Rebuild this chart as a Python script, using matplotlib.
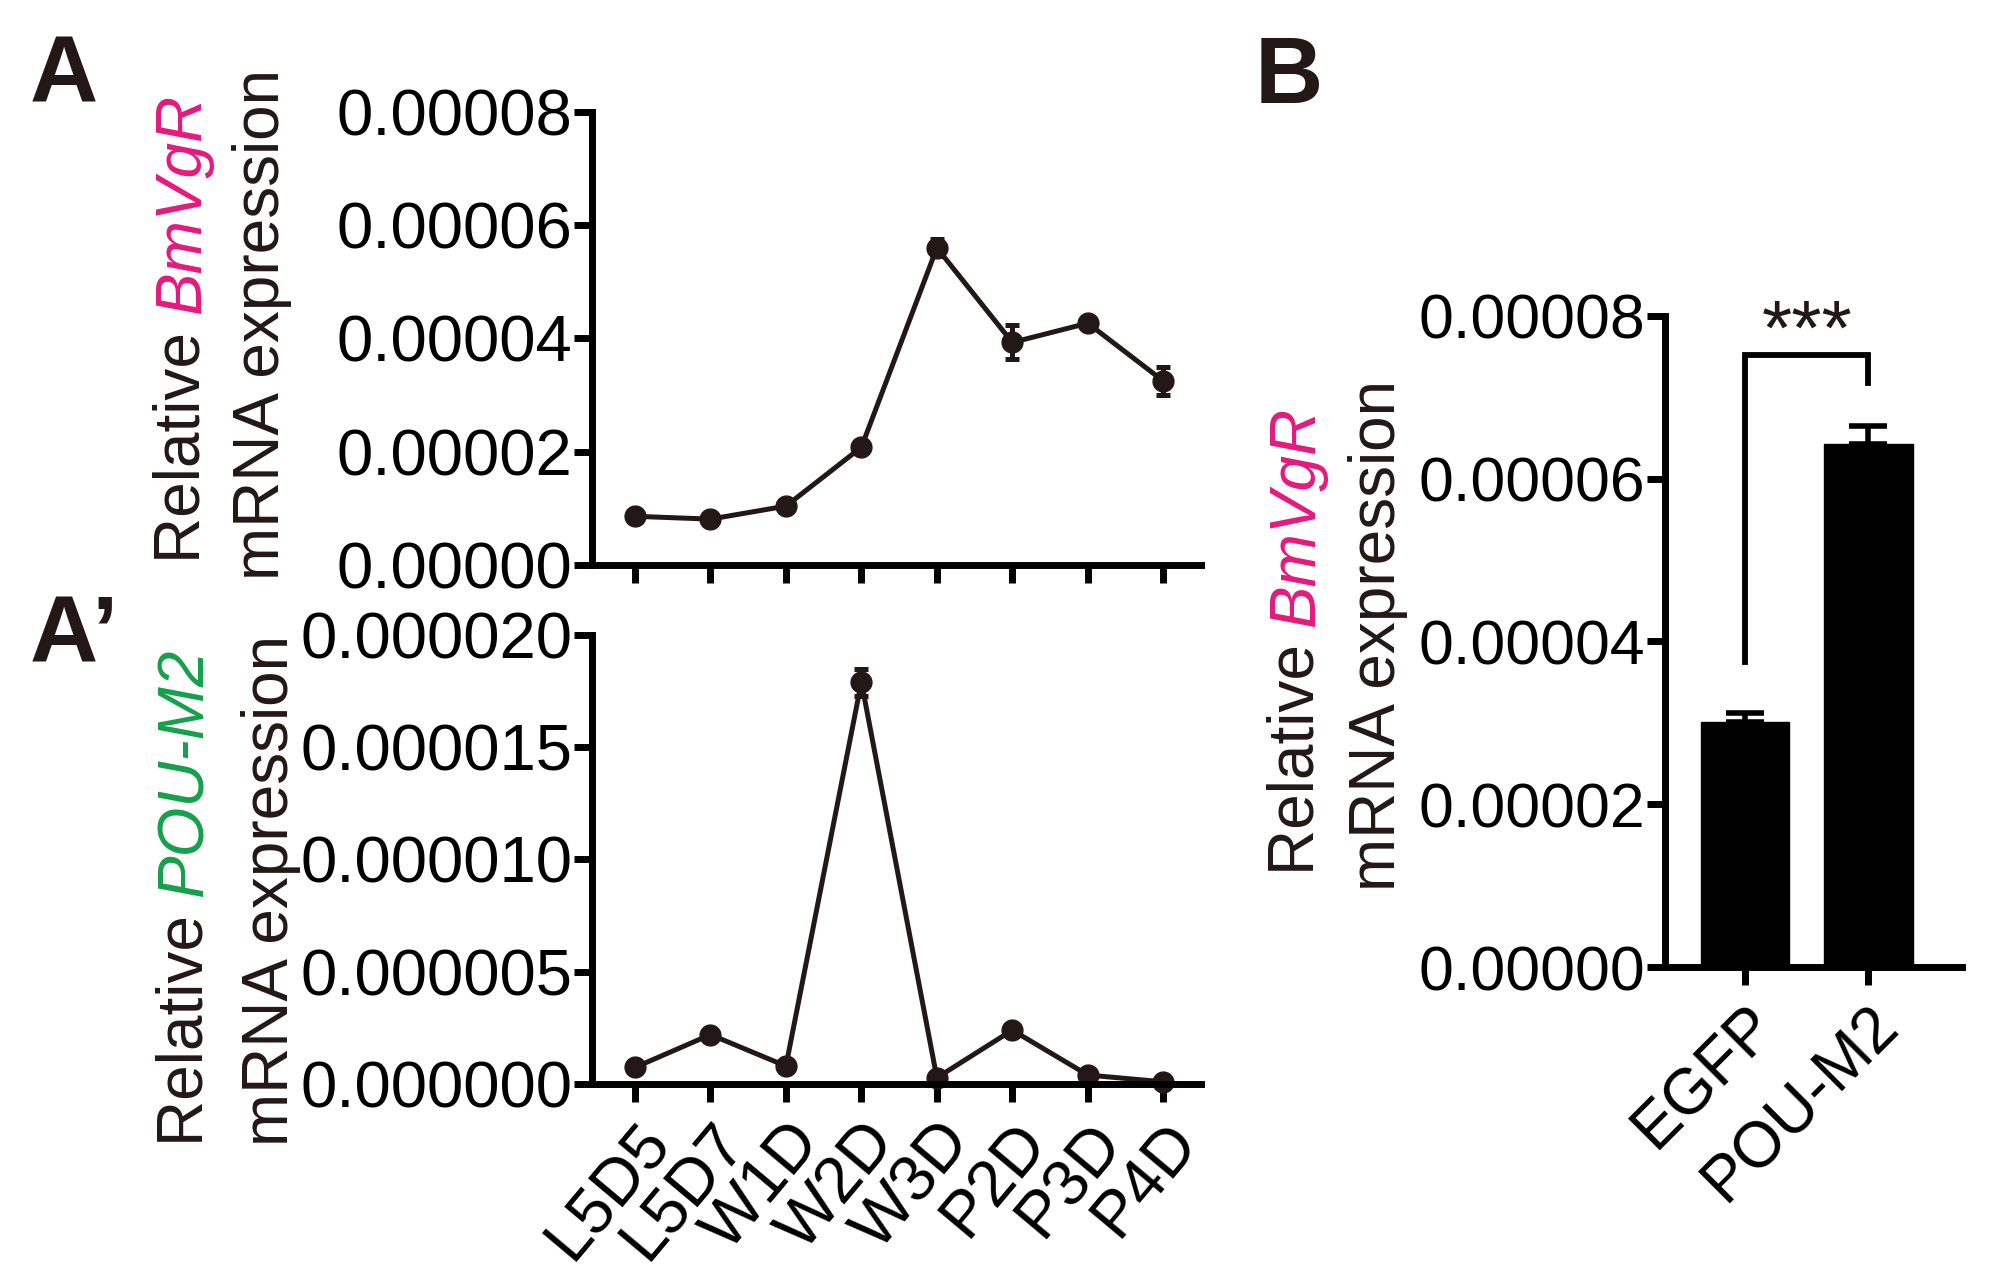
import matplotlib
matplotlib.use("Agg")
import matplotlib.pyplot as plt
import numpy as np

plt.rcParams['font.family'] = ['Liberation Sans', 'DejaVu Sans']

# ---------------- data ----------------
stages = ["L5D5", "L5D7", "W1D", "W2D", "W3D", "P2D", "P3D", "P4D"]
vgr_mean = [0.0000086, 0.0000081, 0.0000104, 0.0000208, 0.0000560, 0.0000393, 0.0000427, 0.0000325]
vgr_err = [0.0000006, 0.0000006, 0.0000008, 0.0000008, 0.0000015, 0.0000030, 0.0000008, 0.0000025]
pou_mean = [0.00000074, 0.0000022, 0.0000008, 0.0000179, 0.00000028, 0.0000024, 0.0000004, 0.0000001]
pou_err = [0.0000002, 0.0000002, 0.0000002, 0.0000006, 0.0000001, 0.0000002, 0.0000001, 0.0000001]
yticks_A = [0.0, 0.00002, 0.00004, 0.00006, 0.00008]
yticks_A2 = [0.0, 0.000005, 0.000010, 0.000015, 0.000020]

groups_B = ["EGFP", "POU-M2"]
vgr_B_mean = [0.0000301, 0.0000642]
vgr_B_err = [0.0000011, 0.0000023]
yticks_B = [0.0, 0.00002, 0.00004, 0.00006, 0.00008]
sig_label = "***"

# ---------------- style ----------------
DARK = '#231815'
PINK = '#E5197D'
GREEN = '#16A04A'
SPW = 5.0
TICK_FS = 47
LABEL_FS = 46

fig = plt.figure(figsize=(20.04, 12.87), dpi=100)

def style_axes(ax):
    for s in ['top', 'right']:
        ax.spines[s].set_visible(False)
    for s in ['left', 'bottom']:
        ax.spines[s].set_linewidth(SPW)
        ax.spines[s].set_color('black')
    ax.tick_params(axis='both', direction='out', length=13, width=SPW, color='black',
                   labelsize=TICK_FS, labelcolor='black', pad=1)

x = np.arange(len(stages))

# Panel A
axA = fig.add_axes([0.2954, 0.561, 0.3039, 0.352])
axA.errorbar(x, vgr_mean, yerr=vgr_err, color=DARK, lw=3.6, marker='o', ms=15,
             capsize=5, capthick=3.6, elinewidth=3.6, clip_on=False)
axA.set_xlim(-0.57, 7.5)
axA.set_ylim(0, 0.00008)
axA.set_yticks(yticks_A)
axA.set_yticklabels(['%.5f' % v for v in yticks_A])
axA.set_xticks(x)
axA.set_xticklabels([])
style_axes(axA)

# Panel A'
axA2 = fig.add_axes([0.2954, 0.1577, 0.3039, 0.349])
axA2.errorbar(x, pou_mean, yerr=pou_err, color=DARK, lw=3.6, marker='o', ms=15,
              capsize=5, capthick=3.6, elinewidth=3.6, clip_on=False)
axA2.set_xlim(-0.57, 7.5)
axA2.set_ylim(0, 0.000020)
axA2.set_yticks(yticks_A2)
axA2.set_yticklabels(['%.6f' % v for v in yticks_A2])
axA2.set_xticks(x)
style_axes(axA2)
axA2.set_xticklabels(stages, rotation=50, ha='right', rotation_mode='anchor')
axA2.tick_params(axis='x', pad=7, labelsize=47)

# Panel B
axB = fig.add_axes([0.8308, 0.2486, 0.1482, 0.506])
xb = np.arange(len(groups_B))
axB.bar(xb, vgr_B_mean, width=0.72, color='black', edgecolor='black')
axB.errorbar(xb, vgr_B_mean, yerr=[[0, 0], vgr_B_err], fmt='none', ecolor='black',
             elinewidth=4, capsize=14, capthick=4)
axB.set_xlim(-0.65, 1.76)
axB.set_ylim(0, 0.00008)
axB.set_yticks(yticks_B)
axB.set_yticklabels(['%.5f' % v for v in yticks_B])
axB.set_xticks(xb)
style_axes(axB)
axB.tick_params(axis='y', labelsize=45)
axB.set_xticklabels(groups_B, rotation=45, ha='right', rotation_mode='anchor')
axB.tick_params(axis='x', pad=7, labelsize=46)
# significance bracket
axB.plot([0, 0, 1, 1], [0.0000375, 0.0000752, 0.0000752, 0.0000718], color='black', lw=4.2,
         clip_on=False, solid_joinstyle='miter')
axB.text(0.5, 0.0000752, sig_label, ha='center', va='baseline', fontsize=56, color=DARK)

# --------- y labels with mixed colours ---------
fig.canvas.draw()
renderer = fig.canvas.get_renderer()

def vlabel(xc, yc, parts, fs=LABEL_FS):
    texts = []
    for txt, color, style in parts:
        t = fig.text(xc, 0, txt, rotation=90, color=color, style=style, fontsize=fs,
                     ha='center', va='bottom')
        texts.append(t)
    hs = []
    for t in texts:
        bb = t.get_window_extent(renderer)
        hs.append(bb.height / fig.bbox.height)
    total = sum(hs)
    y = yc - total / 2
    for t, h in zip(texts, hs):
        t.set_y(y)
        y += h

vlabel(0.0913, 0.745, [("Relative ", DARK, 'normal'), ("BmVgR", PINK, 'italic')])
vlabel(0.1307, 0.748, [("mRNA expression", DARK, 'normal')])
vlabel(0.0925, 0.303, [("Relative ", DARK, 'normal'), ("POU-M2", GREEN, 'italic')])
vlabel(0.1350, 0.308, [("mRNA expression", DARK, 'normal')])
vlabel(0.647, 0.502, [("Relative ", DARK, 'normal'), ("BmVgR", PINK, 'italic')])
vlabel(0.6875, 0.506, [("mRNA expression", DARK, 'normal')])

# panel letters
fig.text(0.015, 0.92, "A", fontsize=68, fontweight='bold', color=DARK, va='baseline')
fig.text(0.015, 0.485, "A\u2019", fontsize=68, fontweight='bold', color=DARK, va='baseline')
fig.text(0.626, 0.92, "B", fontsize=68, fontweight='bold', color=DARK, va='baseline')

fig.savefig("out.png", dpi=100)
